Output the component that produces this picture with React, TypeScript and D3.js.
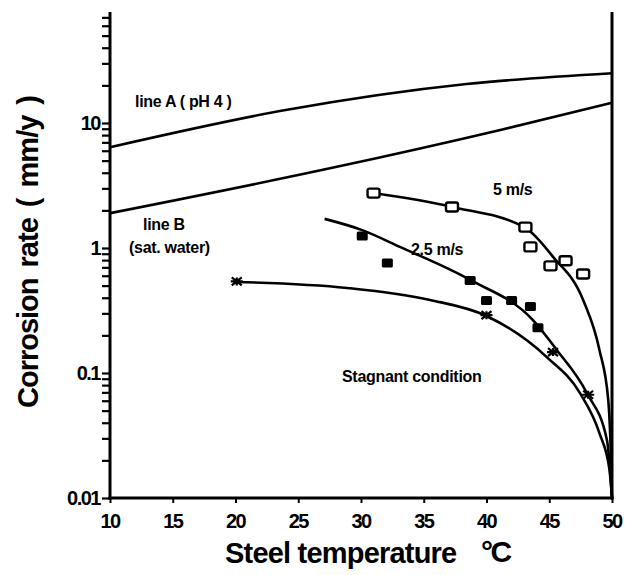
import { useEffect, useRef } from 'react'
import * as d3 from 'd3'

// (temperature °C, corrosion rate mm/y)
const lineAx = [10, 24, 38.4, 50]
const lineAy = [6.4, 12.7, 20.5, 25]
const lineBx = [10, 27.8, 41.1, 50]
const lineBy = [1.9, 4.4, 8.8, 14.5]

const fast5x = [31, 37.25, 43.1, 45.3, 47.7, 49.0, 49.7, 49.9, 50]
const fast5y = [2.75, 2.13, 1.45, 0.85, 0.384, 0.153, 0.061, 0.024, 0.01]
const fast25x = [27.1, 30.1, 33.1, 38.7, 43.7, 45.6, 48.0, 49.6, 50]
const fast25y = [1.71, 1.39, 1.02, 0.555, 0.265, 0.153, 0.069, 0.029, 0.01]
const stagX = [20.1, 28.9, 35.5, 40.0, 44.8, 47.45, 49.0, 49.8, 50]
const stagY = [0.535, 0.479, 0.384, 0.286, 0.134, 0.069, 0.033, 0.0168, 0.01]

const open5x = [31.0, 37.25, 43.1, 43.5, 45.1, 46.3, 47.7]
const open5y = [2.75, 2.13, 1.47, 1.02, 0.72, 0.79, 0.62]
const filled25x = [30.1, 32.1, 38.7, 40.0, 42.0, 43.5, 44.1]
const filled25y = [1.25, 0.76, 0.55, 0.38, 0.38, 0.34, 0.23]
const starX = [20.1, 40.0, 45.3, 48.1]
const starY = [0.54, 0.29, 0.147, 0.067]

const xTicks = [10, 15, 20, 25, 30, 35, 40, 45, 50]
const yMajor = [0.01, 0.1, 1, 10]
const yMajorLabels = ['0.01', '0.1', '1', '10']

const FONT = '"Liberation Sans", Arial, sans-serif'

export default function App() {
  const svgRef = useRef<SVGSVGElement>(null)

  useEffect(() => {
    if (!svgRef.current) return
    const svg = d3.select(svgRef.current)
    svg.selectAll('*').remove()

    const x = d3.scaleLinear().domain([10, 50]).range([110, 612])
    const y = d3.scaleLog().domain([0.01, 100]).range([498, -2])

    // minor ticks for every decade
    const yTicks: number[] = []
    for (const d of [0.01, 0.1, 1, 10]) {
      for (let k = 1; k <= 9; k++) {
        const v = d * k
        if (v <= 70) yTicks.push(v)
      }
    }

    // y axis
    const yAxis = d3.axisLeft(y)
      .tickValues(yTicks)
      .tickSize(8)
      .tickFormat(() => '')
    const gy = svg.append('g').attr('transform', 'translate(110,0)').call(yAxis)
    gy.select('.domain').remove()
    gy.selectAll('line').attr('stroke', '#000').attr('stroke-width', 2.2)

    svg.append('g')
      .selectAll('text')
      .data(yMajor)
      .enter()
      .append('text')
      .attr('x', 100)
      .attr('y', d => y(d))
      .attr('dy', '0.36em')
      .attr('text-anchor', 'end')
      .attr('font-family', FONT)
      .attr('font-weight', 'bold')
      .attr('font-size', 20)
      .attr('letter-spacing', -1.5)
      .text((_, i) => yMajorLabels[i])

    // x axis
    const xAxis = d3.axisBottom(x).tickValues(xTicks).tickSize(5).tickFormat(() => '')
    const gx = svg.append('g').attr('transform', 'translate(0,498)').call(xAxis)
    gx.select('.domain').remove()
    gx.selectAll('line').attr('stroke', '#000').attr('stroke-width', 2)

    svg.append('g')
      .selectAll('text')
      .data(xTicks)
      .enter()
      .append('text')
      .attr('x', d => x(d))
      .attr('y', 528)
      .attr('text-anchor', 'middle')
      .attr('font-family', FONT)
      .attr('font-weight', 'bold')
      .attr('font-size', 20)
      .attr('letter-spacing', -1.5)
      .text(d => String(d))

    // frame lines
    svg.append('line')
      .attr('x1', 110).attr('x2', 110).attr('y1', 12).attr('y2', 499.5)
      .attr('stroke', '#000').attr('stroke-width', 3)
    svg.append('line')
      .attr('x1', 108.5).attr('x2', 613.5).attr('y1', 498).attr('y2', 498)
      .attr('stroke', '#000').attr('stroke-width', 3)
    svg.append('line')
      .attr('x1', 612).attr('x2', 612).attr('y1', 12).attr('y2', 499.5)
      .attr('stroke', '#000').attr('stroke-width', 3)

    // curves
    const line = d3.line<[number, number]>()
      .x(d => x(d[0]))
      .y(d => y(d[1]))
      .curve(d3.curveMonotoneX)

    const series: [number[], number[]][] = [
      [lineAx, lineAy],
      [lineBx, lineBy],
      [fast5x, fast5y],
      [fast25x, fast25y],
      [stagX, stagY],
    ]
    series.forEach(([xs, ys]) => {
      svg.append('path')
        .datum(xs.map((v, i) => [v, ys[i]] as [number, number]))
        .attr('fill', 'none')
        .attr('stroke', '#000')
        .attr('stroke-width', 2.6)
        .attr('d', line)
    })

    // markers
    svg.append('g')
      .selectAll('rect')
      .data(open5x.map((v, i) => [v, open5y[i]]))
      .enter()
      .append('rect')
      .attr('x', d => x(d[0]) - 6)
      .attr('y', d => y(d[1]) - 4.5)
      .attr('width', 12)
      .attr('height', 9)
      .attr('rx', 2)
      .attr('fill', '#fff')
      .attr('stroke', '#000')
      .attr('stroke-width', 2.4)

    svg.append('g')
      .selectAll('rect')
      .data(filled25x.map((v, i) => [v, filled25y[i]]))
      .enter()
      .append('rect')
      .attr('x', d => x(d[0]) - 5.5)
      .attr('y', d => y(d[1]) - 4.5)
      .attr('width', 11)
      .attr('height', 9)
      .attr('rx', 1.5)
      .attr('fill', '#000')

    const star = svg.append('g')
      .selectAll('g')
      .data(starX.map((v, i) => [v, starY[i]]))
      .enter()
      .append('g')
      .attr('transform', d => `translate(${x(d[0])},${y(d[1])})`)
    star.append('path')
      .attr('d', 'M-5,-4L5,4M-5,4L5,-4M-6,0L6,0M0,-4L0,4')
      .attr('stroke', '#000')
      .attr('stroke-width', 2.2)

    // annotations
    const label = (tx: number, ty: number, s: string, size = 16, ls = -0.3) =>
      svg.append('text')
        .attr('x', tx)
        .attr('y', ty)
        .attr('font-family', FONT)
        .attr('font-weight', 'bold')
        .attr('font-size', size)
        .attr('letter-spacing', ls)
        .text(s)

    label(135, 107, 'line A ( pH 4 )')
    label(143, 230, 'line B')
    label(129, 253, '(sat. water)')
    label(493, 195, '5 m/s')
    label(411, 255, '2.5 m/s')
    label(342, 382, 'Stagnant condition')

    // axis titles
    svg.append('text')
      .attr('x', 225)
      .attr('y', 563)
      .attr('font-family', FONT)
      .attr('font-weight', 'bold')
      .attr('font-size', 29)
      .attr('letter-spacing', -0.8)
      .text('Steel temperature')
    svg.append('text')
      .attr('x', 481)
      .attr('y', 562)
      .attr('font-family', FONT)
      .attr('font-weight', 'bold')
      .attr('font-size', 30)
      .attr('letter-spacing', -2.5)
      .text('°C')

    svg.append('text')
      .attr('transform', 'translate(38,252) rotate(-90)')
      .attr('text-anchor', 'middle')
      .attr('font-family', FONT)
      .attr('font-weight', 'bold')
      .attr('font-size', 29)
      .attr('letter-spacing', -1)
      .attr('word-spacing', 4)
      .text('Corrosion rate  ( mm/y )')
  }, [])

  return (
    <svg
      ref={svgRef}
      width={630}
      height={575}
      style={{ position: 'absolute', left: 0, top: 0, background: '#fff' }}
    />
  )
}
